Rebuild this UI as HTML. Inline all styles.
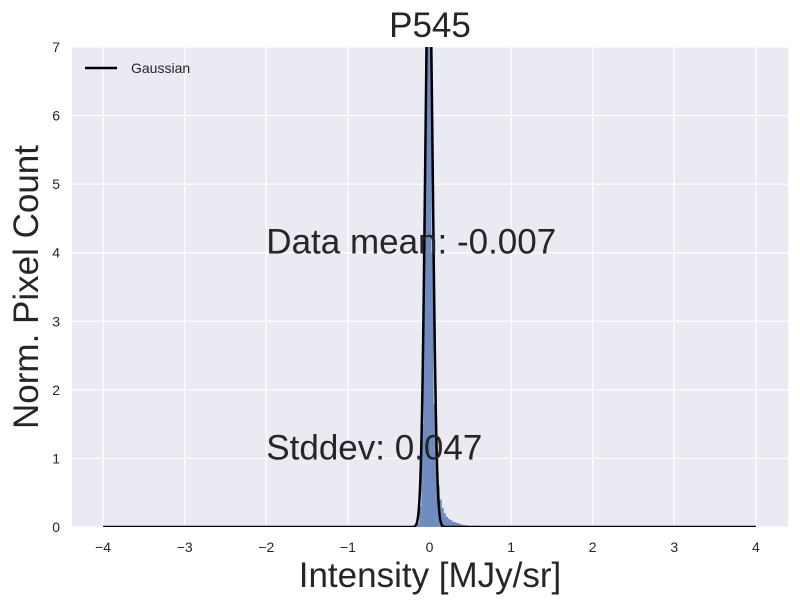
<!DOCTYPE html>
<html><head><meta charset="utf-8"><style>
body{margin:0;background:#fff;}
svg{display:block;font-family:"Liberation Sans",sans-serif;}
</style></head><body>
<svg id="c" width="800" height="604"></svg>
<script>
const binEdgesStart = -0.15;
const binWidth = 0.025;
const binHeights = [0.05,0.3,1.5,4.5,8,9,8,4,1.8,0.9,0.6,0.4,0.28,0.2,0.15,0.12,0.1,0.08,0.07,0.06,0.05,0.04,0.03,0.03,0.02,0.02,0.01,0.02,0.01];
const gaussMean = -0.007;
const gaussStd = 0.047;
const xTicks = [-4,-3,-2,-1,0,1,2,3,4];
const yTicks = [0,1,2,3,4,5,6,7];
const title = "P545";

const L=72,R=788,T=47,B=527;
const X=v=>429.5+v*81.6;
const Y=v=>B-(v/7)*(B-T);
const NS="http://www.w3.org/2000/svg";
const svg=document.getElementById('c');
function mk(tag,attrs,parent){const e=document.createElementNS(NS,tag);for(const k in attrs)e.setAttribute(k,attrs[k]);(parent||svg).appendChild(e);return e;}

const bg=mk('rect',{x:L,y:T,width:R-L,height:B-T,fill:'#eaeaf2'});


const defs=mk('defs',{});
const cp=mk('clipPath',{id:'clip'},defs);
mk('rect',{x:L,y:T,width:R-L,height:B-T},cp);

xTicks.forEach(t=>{
  const g=mk('line',{x1:X(t),x2:X(t),y1:T,y2:B,stroke:'#fff','stroke-width':1.2});
  
  
  const tx=mk('text',{x:X(t),y:552,'text-anchor':'middle','font-size':14,fill:'#262626'});
  tx.textContent=(t<0?'\u2212'+(-t):t);
  
  
});
yTicks.forEach(t=>{
  const g=mk('line',{x1:L,x2:R,y1:Y(t),y2:Y(t),stroke:'#fff','stroke-width':1.2});
  
  
  const tx=mk('text',{x:60,y:Y(t)+5,'text-anchor':'end','font-size':14,fill:'#262626'});
  tx.textContent=t;
  
  
});

const hg=mk('g',{'clip-path':'url(#clip)'});
binHeights.forEach((h,i)=>{
  const x0=binEdgesStart+i*binWidth;
  const r=mk('rect',{x:X(x0),y:Y(h),width:X(x0+binWidth)-X(x0),height:B-Y(h),fill:'#4c72b0','fill-opacity':0.8},hg);
  
  
});

let pts=[];
for(let i=0;i<=4000;i++){const v=-4+8*i/4000;
  const y=Math.exp(-0.5*((v-gaussMean)/gaussStd)**2)/(gaussStd*Math.sqrt(2*Math.PI));
  pts.push(X(v).toFixed(2)+','+Y(y).toFixed(2));}
const gl=mk('polyline',{points:pts.join(' '),fill:'none',stroke:'#000','stroke-width':2.5},hg);



function txt(s,attrs,name){const e=mk('text',attrs);e.textContent=s;return e;}
txt(title,{x:430,y:37,'text-anchor':'middle','font-size':35,fill:'#262626'},'chart-title');
txt('Data mean: -0.007',{x:X(-2),y:Y(4)+1,'font-size':35,fill:'#262626'},'mean-annotation');
txt('Stddev: 0.047',{x:X(-2),y:Y(1)+1,'font-size':35,fill:'#262626'},'stddev-annotation');
txt('Intensity [MJy/sr]',{x:430,y:587,'text-anchor':'middle','font-size':35,fill:'#262626'},'x-axis-title');
txt('Norm. Pixel Count',{x:38,y:287,'text-anchor':'middle','font-size':35,fill:'#262626',transform:'rotate(-90 38 287)'},'y-axis-title');

const lg=mk('g',{});


mk('line',{x1:85,x2:117,y1:68,y2:68,stroke:'#000','stroke-width':2.5},lg);
const lt=mk('text',{x:131,y:73,'font-size':14,fill:'#262626'},lg);
lt.textContent='Gaussian';
</script>
</body></html>
